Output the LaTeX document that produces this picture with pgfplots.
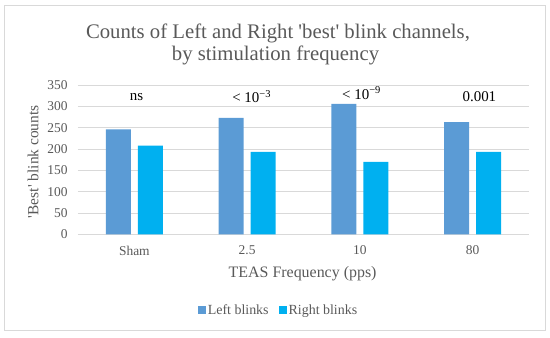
\documentclass[border=0pt]{standalone}
\usepackage{fontspec}
\setmainfont{Liberation Serif}
\usepackage{pgfplots}
\pgfplotsset{compat=1.18}
\definecolor{leftc}{HTML}{5B9BD5}
\definecolor{rightc}{HTML}{00B0F0}
\definecolor{txt}{HTML}{595959}
\definecolor{gridc}{HTML}{D9D9D9}
\begin{document}
\begin{tikzpicture}[x=1bp,y=1bp]
\useasboundingbox (-78,-102.7) rectangle (472,234.3);
\draw[gridc, line width=1.3bp] (-73.3,-96.4) rectangle (467.5,228.8);
\node[txt, font=\fontsize{20.8}{22}\selectfont, anchor=base, inner sep=0pt] at (200,196) {Counts of Left and Right \textquotesingle best\textquotesingle{} blink channels,};
\node[txt, font=\fontsize{20.8}{22}\selectfont, anchor=base, inner sep=0pt] at (197.5,174.3) {by stimulation frequency};
\begin{axis}[
  at={(0,0)}, anchor=south west,
  scale only axis, width=451bp, height=149.3bp,
  xmin=-0.5, xmax=3.5, ymin=0, ymax=350,
  ybar=7bp, bar width=25bp,
  xtick={0,1,2,3}, xticklabels={Sham,2.5,10,80},
  ytick={0,50,...,350},
  ymajorgrids, grid style={gridc, line width=0.9bp},
  separate axis lines,
  axis x line*=bottom, axis y line*=left,
  y axis line style={draw=none},
  x axis line style={draw=gridc, line width=1bp, -},
  major tick length=0pt,
  tick label style={font=\fontsize{13.5}{15}\selectfont, text=txt},
  /pgf/number format/assume math mode=true,
  xticklabel style={yshift=-8bp},
  yticklabel style={xshift=-7bp},
  xlabel={TEAS Frequency (pps)},
  xlabel style={at={(axis description cs:0.498,-0.266)}, anchor=center, font=\fontsize{16}{18}\selectfont, text=txt},
  ylabel={\textquotesingle Best\textquotesingle{} blink counts},
  ylabel style={at={(axis description cs:-0.0998,0.486)}, anchor=center, font=\fontsize{15.5}{17}\selectfont, text=txt},
  legend columns=2,
  legend style={at={(axis description cs:0.4446,-0.508)}, anchor=center, draw=none, fill=none,
    font=\fontsize{14}{16}\selectfont, text=txt,
    /tikz/every even column/.append style={column sep=8bp}},
]
\addplot[fill=leftc, draw=none, legend image code/.code={\fill[leftc] (-2bp,-4bp) rectangle (6bp,4bp);}] coordinates {(0,246) (1,273) (2,306) (3,263)};
\addplot[fill=rightc, draw=none, legend image code/.code={\fill[rightc] (-2bp,-4bp) rectangle (6bp,4bp);}] coordinates {(0,208) (1,193) (2,170) (3,193)};
\legend{Left blinks, Right blinks}
\node[font=\fontsize{15}{17}\selectfont] at (axis cs:0.02,322) {ns};
\node[font=\fontsize{15}{17}\selectfont] at (axis cs:1.04,322) {< 10\textsuperscript{−3}};
\node[font=\fontsize{15}{17}\selectfont] at (axis cs:2.015,331) {< 10\textsuperscript{−9}};
\node[font=\fontsize{15}{17}\selectfont] at (axis cs:3.06,322) {0.001};
\end{axis}
\end{tikzpicture}
\end{document}
